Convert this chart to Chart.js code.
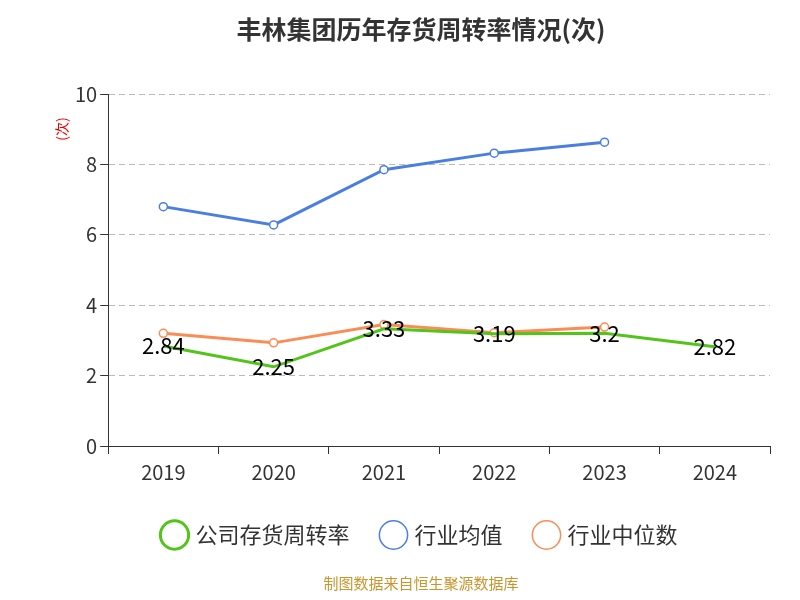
<!DOCTYPE html>
<html><head><meta charset="utf-8">
<script src="https://cdn.jsdelivr.net/npm/chart.js@4/dist/chart.umd.min.js"></script>
<style>body{margin:0;background:#fff}#wrap{width:800px;height:600px}</style>
</head><body><div id="wrap"><canvas id="c" width="800" height="600"></canvas></div>
<script>
const years = ["2019", "2020", "2021", "2022", "2023", "2024"];
const companyTurnover = [2.84, 2.25, 3.33, 3.19, 3.2, 2.82];
const industryMean = [6.8, 6.28, 7.85, 8.32, 8.63, null];
const industryMedian = [3.2, 2.93, 3.45, 3.22, 3.38, null];

const font = "'Noto Sans CJK SC', 'Noto Sans', sans-serif";

// value labels for the company series, plus the unit text by the y axis
const valueLabels = {
  id: "valueLabels",
  afterDatasetsDraw(chart) {
    const ctx = chart.ctx;
    const meta = chart.getDatasetMeta(0);
    ctx.save();
    ctx.font = "22px " + font;
    ctx.fillStyle = "#000";
    ctx.textAlign = "center";
    ctx.textBaseline = "middle";
    meta.data.forEach((pt, i) => {
      ctx.fillText(String(companyTurnover[i]), pt.x, pt.y);
    });
    ctx.translate(62, chart.chartArea.top + 35);
    ctx.rotate(-Math.PI / 2);
    ctx.font = "14px " + font;
    ctx.fillStyle = "#e00";
    ctx.fillText("(次)", 0, 0);
    ctx.restore();
  }
};

new Chart(document.getElementById("c"), {
  type: "line",
  data: {
    labels: years,
    datasets: [
      { label: "公司存货周转率", data: companyTurnover, borderColor: "#52c41a", backgroundColor: "#fff",
        borderWidth: 3, pointRadius: 0, pointHoverRadius: 0 },
      { label: "行业均值", data: industryMean, borderColor: "#4a7fe0", backgroundColor: "#fff",
        borderWidth: 3, pointRadius: 4, pointBorderWidth: 1.5 },
      { label: "行业中位数", data: industryMedian, borderColor: "#fa8c55", backgroundColor: "#fff",
        borderWidth: 3, pointRadius: 4, pointBorderWidth: 1.5 }
    ]
  },
  options: {
    responsive: false,
    animation: false,
    layout: { padding: { left: 72, right: 30, top: 10, bottom: 8 } },
    plugins: {
      title: { display: true, text: "丰林集团历年存货周转率情况(次)", color: "#333",
        font: { family: font, size: 25, weight: "bold" }, padding: { top: 4, bottom: 50 } },
      legend: { position: "bottom", labels: { usePointStyle: true, pointStyle: "circle", boxWidth: 20, boxHeight: 20,
        color: "#333", font: { family: font, size: 22 }, padding: 34 } },
      subtitle: { display: true, position: "bottom", text: "制图数据来自恒生聚源数据库", color: "#c8962d",
        font: { family: font, size: 15 }, padding: { top: 18, bottom: 0 } },
      tooltip: { enabled: false }
    },
    scales: {
      x: { offset: true, grid: { display: true, drawOnChartArea: false, offset: true, tickLength: 8, tickColor: "#333" },
        border: { color: "#333" },
        ticks: { color: "#333", padding: 6, font: { family: font, size: 20 } } },
      y: { min: 0, max: 10, ticks: { stepSize: 2, color: "#333", font: { family: font, size: 20 } },
        border: { display: true, color: "#333", dash: [] },
        grid: { color: "#bbb", tickColor: "#333", tickLength: 8, tickBorderDash: [] },
        border: { color: "#333", dash: [6, 4] } }
    }
  },
  plugins: [valueLabels]
});
</script></body></html>
